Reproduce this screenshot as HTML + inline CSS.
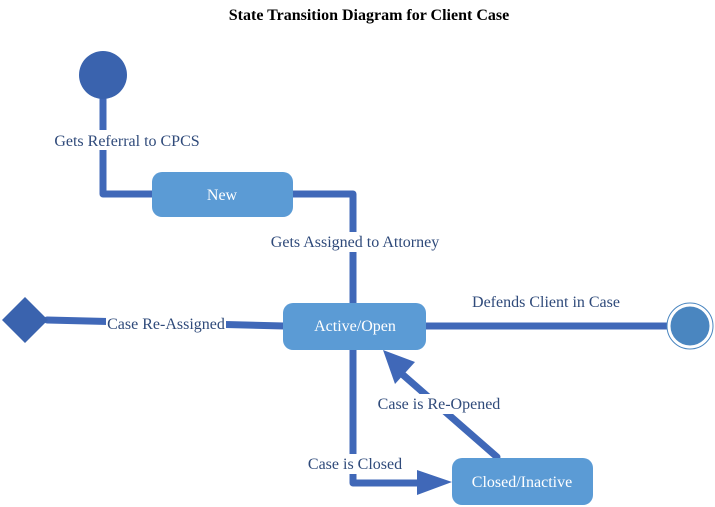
<!DOCTYPE html>
<html><head><meta charset="utf-8"><style>
html,body{margin:0;padding:0;background:#fff;width:715px;height:507px;overflow:hidden}
svg text{font-family:"Liberation Serif",serif}
</style></head><body>
<svg width="715" height="507" viewBox="0 0 715 507" xmlns="http://www.w3.org/2000/svg">
<text x="369" y="20" text-anchor="middle" font-size="16" font-weight="bold" fill="#000">State Transition Diagram  for Client Case</text>
<g stroke="#4068b8" stroke-width="7" fill="none" stroke-linecap="round" stroke-linejoin="round">
<polyline points="103,99 103,194 152,194"/>
<polyline points="293,194 353,194 353,304"/>
<polyline points="47,320 284,326"/>
<line x1="426" y1="326" x2="668" y2="326"/>
<polyline points="353,350 353,483 420,483"/>
<line x1="497" y1="457" x2="402" y2="374"/>
</g>
<polygon points="417,470 452,482 417,495" fill="#4068b8"/>
<polygon points="383,350 415,362 395,384" fill="#4068b8"/>
<circle cx="103" cy="75" r="24" fill="#3a63ae"/>
<polygon points="25,297 48,320 25,343 2,320" fill="#3a63ae"/>
<circle cx="690" cy="326" r="23" fill="#fff" stroke="#4a86c0" stroke-width="1"/>
<circle cx="690" cy="326" r="19.5" fill="#4a86c0"/>
<rect x="152" y="172" width="141" height="45" rx="10" fill="#5b9bd5"/>
<rect x="283" y="303" width="143" height="47" rx="10" fill="#5b9bd5"/>
<rect x="452" y="458" width="141" height="47" rx="10" fill="#5b9bd5"/>
<g font-size="16" fill="#fff" text-anchor="middle">
<text x="222" y="200">New</text>
<text x="355" y="331">Active/Open</text>
<text x="522" y="487">Closed/Inactive</text>
</g>
<g font-size="16" fill="#2f4a7a" text-anchor="middle">
<rect x="52" y="130" width="150" height="20" fill="#fff"/>
<text x="127" y="146">Gets Referral to CPCS</text>
<rect x="267" y="232" width="176" height="20" fill="#fff"/>
<text x="355" y="247">Gets Assigned to Attorney</text>
<rect x="106" y="314" width="120" height="20" fill="#fff"/>
<text x="166" y="329">Case Re-Assigned</text>
<text x="546" y="307">Defends Client in Case</text>
<rect x="375" y="394" width="128" height="20" fill="#fff"/>
<text x="439" y="409">Case is Re-Opened</text>
<rect x="305" y="454" width="101" height="20" fill="#fff"/>
<text x="355" y="469">Case is Closed</text>
</g>
</svg>
</body></html>
